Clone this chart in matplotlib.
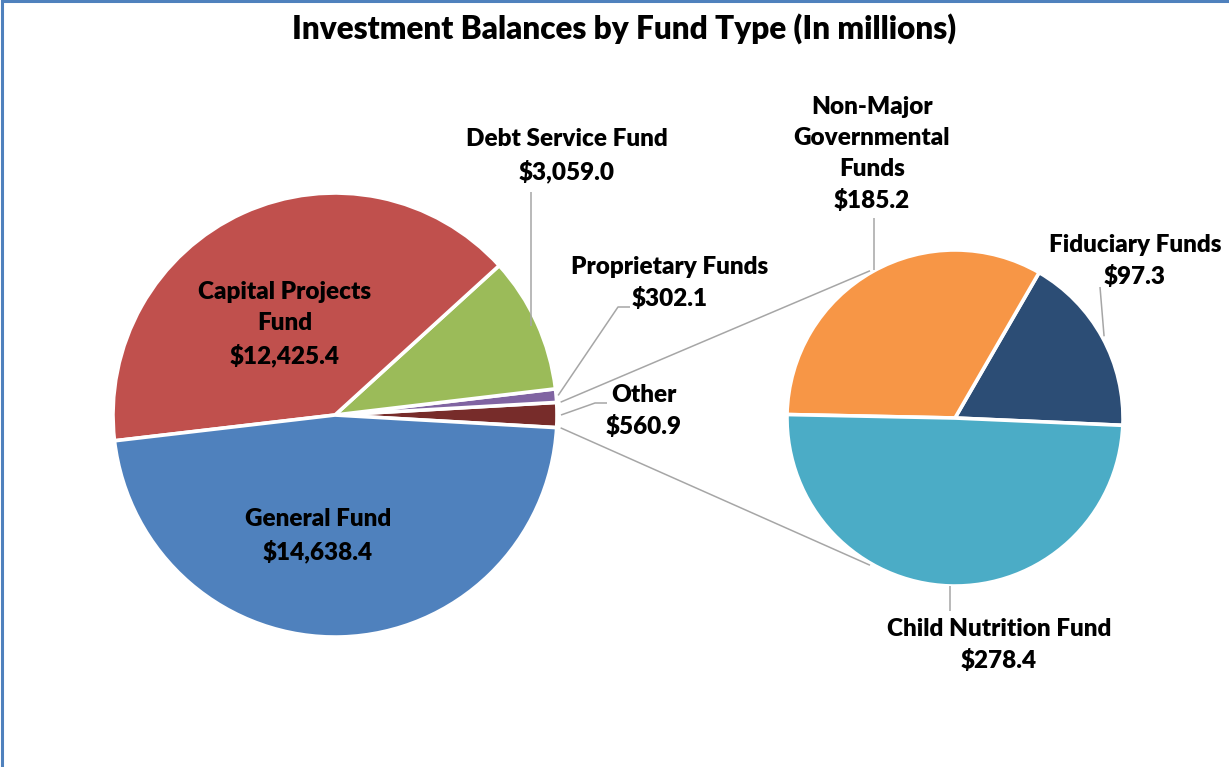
import numpy as np
import matplotlib
matplotlib.use("Agg")
import matplotlib.pyplot as plt
from matplotlib.patches import Rectangle

plt.rcParams['font.family'] = ['Lato', 'DejaVu Sans']

# main pie (counterclockwise from the right): Other first, so it faces the small pie
main_names = ['Other', 'Proprietary Funds', 'Debt Service Fund',
              'Capital Projects\nFund', 'General Fund']
main_vals = [560.9, 302.1, 3059.0, 12425.4, 14638.4]
main_colors = ['#772C2A', '#8064A2', '#9BBB59', '#C0504D', '#4F81BD']

# breakdown of "Other"
sub_names = ['Fiduciary Funds', 'Non-Major\nGovernmental\nFunds', 'Child Nutrition Fund']
sub_vals = [97.3, 185.2, 278.4]
sub_colors = ['#2C4D75', '#F79646', '#4BACC6']

W, H = 1229, 767
GRAY = '#A6A6A6'
FS = 17.5
WT = 'heavy'

fig = plt.figure(figsize=(W / 100, H / 100), dpi=100)
ax = fig.add_axes([0, 0, 1, 1])


def Y(y):
    # pixel row (from top) -> data y
    return H - y


def pt(c, r, deg):
    a = np.radians(deg)
    return c[0] + r * np.cos(a), c[1] + r * np.sin(a)


def label(s, x, y):
    ax.text(x, Y(y), s, ha='center', va='center', fontsize=FS,
            fontweight=WT, linespacing=1.5, color='black')


def leader(points):
    xs = [p[0] for p in points]
    ys = [p[1] for p in points]
    ax.plot(xs, ys, color=GRAY, lw=1.1, solid_capstyle='butt')


mc, mr = (335, Y(415)), 222
sc, sr = (955, Y(418)), 168

other_deg = main_vals[0] / sum(main_vals) * 360
main_w, _ = ax.pie(main_vals, colors=main_colors, startangle=-other_deg / 2,
                   counterclock=True, center=mc, radius=mr,
                   explode=[0, 0, 0, 0, 0.032],
                   wedgeprops=dict(edgecolor='white', linewidth=2.6))
sub_w, _ = ax.pie(sub_vals, colors=sub_colors, startangle=-2.5,
                  counterclock=True, center=sc, radius=sr,
                  explode=[0.02, 0.02, 0.02],
                  wedgeprops=dict(edgecolor='white', linewidth=2.6))

ax.set_xlim(0, W)
ax.set_ylim(0, H)
ax.set_aspect('auto')
ax.axis('off')

# connector lines between the "Other" slice and the small pie
ow = main_w[0]
p1 = pt(mc, mr + 4, ow.theta2)
p2 = pt(mc, mr + 4, ow.theta1)
leader([p1, pt(sc, sr + 2, 120)])
leader([p2, pt(sc, sr + 2, 240)])


def mid(w):
    return (w.theta1 + w.theta2) / 2


def val(v):
    return f'${v:,.1f}'


# main pie labels
label(f'{main_names[3]}\n{val(main_vals[3])}', 285, 324)
label(f'{main_names[4]}\n{val(main_vals[4])}', 318, 536)

s = pt(mc, mr * 0.97, mid(main_w[2]))
leader([s, (s[0], Y(192))])
label(f'{main_names[2]}\n{val(main_vals[2])}', 567, 156)

s = pt(mc, mr + 2, mid(main_w[1]))
leader([s, (618, Y(307)), (630, Y(307))])
label(f'{main_names[1]}\n{val(main_vals[1])}', 670, 283)

s = pt(mc, mr + 4, mid(main_w[0]))
leader([s, (595, Y(403)), (607, Y(403))])
label(f'{main_names[0]}\n{val(main_vals[0])}', 644, 411)

# small pie labels
s = pt(sc, sr, mid(sub_w[1]) - 1)
leader([(874, s[1]), (874, Y(218))])
label(f'{sub_names[1]}\n{val(sub_vals[1])}', 872, 154)

s = pt(sc, sr + 2, mid(sub_w[0]))
leader([s, (1100, Y(287))])
label(f'{sub_names[0]}\n{val(sub_vals[0])}', 1135, 261)

s = pt(sc, sr, mid(sub_w[2]))
leader([s, (s[0], Y(611))])
label(f'{sub_names[2]}\n{val(sub_vals[2])}', 999, 645)

ax.text(624, Y(29), 'Investment Balances by Fund Type (In millions)',
        ha='center', va='center', fontsize=22.7, fontweight=WT)

# chart area frame
fig.patches.append(Rectangle((2 / W, -0.05), 1.1, 1.05 - 1 / H,
                             transform=fig.transFigure, fill=False,
                             edgecolor='#4F81BD', lw=2.2, clip_on=False))

fig.savefig('out.png', dpi=100, facecolor='white')
